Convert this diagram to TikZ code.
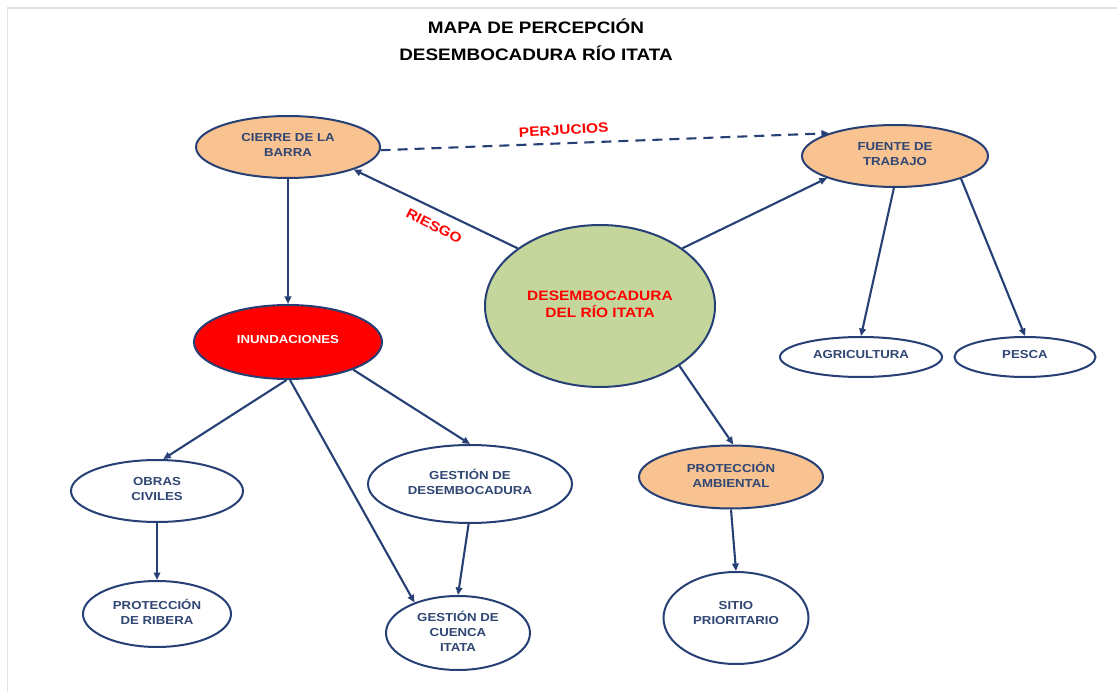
\documentclass[tikz,border=0pt]{standalone}
\usepackage{fontspec}
\setmainfont{Liberation Sans}[FakeStretch=1.14]
\usetikzlibrary{shapes.geometric,arrows.meta}
\definecolor{navy}{RGB}{38,64,118}
\definecolor{txtblue}{RGB}{48,70,115}
\definecolor{peach}{RGB}{249,194,145}
\definecolor{olive}{RGB}{196,214,156}
\definecolor{framegray}{RGB}{226,226,226}
\begin{document}
\begin{tikzpicture}[x=1pt,y=-1pt,
 ell/.style={ellipse, draw=navy, line width=2pt, inner sep=0pt, fill=white},
 nt/.style={font=\bfseries\fontsize{11.6}{15}\selectfont, text=txtblue, align=center, yshift=2pt},
 conn/.style={draw=navy, line width=2.1pt, -{Triangle[length=7.5pt,width=6.5pt]}},
 redlbl/.style={font=\bfseries\fontsize{13.6}{16}\selectfont, text=red},
]
\useasboundingbox (0,0) rectangle (1117,692);
\fill[white] (0,0) rectangle (1117,692);
\draw[framegray, line width=1.5pt] (7.5,692) -- (7.5,8) -- (1117,8);

\node[font=\bfseries\fontsize{16.6}{27}\selectfont, align=center] (title) at (536,40) {MAPA DE PERCEPCIÓN\\DESEMBOCADURA RÍO ITATA};

\node[ell, fill=olive, minimum width=230pt, minimum height=162pt,
  label={[nt, font=\bfseries\fontsize{13.6}{17}\selectfont, text=red]center:DESEMBOCADURA\\DEL RÍO ITATA}] (rio) at (600,306) {};
\node[ell, fill=peach, minimum width=184pt, minimum height=62pt,
  label={[nt]center:CIERRE DE LA\\BARRA}] (cierre) at (288,147) {};
\node[ell, fill=peach, minimum width=186pt, minimum height=62pt,
  label={[nt]center:FUENTE DE\\TRABAJO}] (fuente) at (895,156) {};
\node[ell, fill=red, minimum width=188pt, minimum height=74pt,
  label={[nt, text=white]center:INUNDACIONES}] (inund) at (288,342) {};
\node[ell, minimum width=162pt, minimum height=40pt,
  label={[nt]center:AGRICULTURA}] (agri) at (861,357) {};
\node[ell, minimum width=141pt, minimum height=40pt,
  label={[nt]center:PESCA}] (pesca) at (1025,357) {};
\node[ell, fill=peach, minimum width=184pt, minimum height=63pt,
  label={[nt]center:PROTECCIÓN\\AMBIENTAL}] (protamb) at (731,477) {};
\node[ell, minimum width=172pt, minimum height=62pt,
  label={[nt]center:OBRAS\\CIVILES}] (obras) at (157,491) {};
\node[ell, minimum width=204pt, minimum height=78pt,
  label={[nt]center:GESTIÓN DE\\DESEMBOCADURA}] (gdesemb) at (470,484) {};
\node[ell, minimum width=148pt, minimum height=66pt,
  label={[nt]center:PROTECCIÓN\\DE RIBERA}] (ribera) at (157,614) {};
\node[ell, minimum width=144pt, minimum height=74pt,
  label={[nt]center:GESTIÓN DE\\CUENCA\\ITATA}] (cuenca) at (458,633) {};
\node[ell, minimum width=145pt, minimum height=92pt,
  label={[nt, yshift=3pt]center:SITIO\\PRIORITARIO}] (sitio) at (736,618) {};

\draw[conn] (rio.145) -- (cierre.-19);
\draw[conn] (rio.35) -- (fuente.198);
\draw[conn] (rio.-37) -- (protamb.86);
\draw[conn] (cierre.south) -- (inund.north);
\draw[conn, dash pattern=on 10pt off 7pt] (cierre.-2) -- node[redlbl, pos=0.41, above=4pt, sloped, rotate=1] (perj) {PERJUCIOS} (fuente.161);
\draw[conn] (fuente.-92) -- (agri.north);
\draw[conn] (fuente.-19) -- (pesca.north);
\draw[conn] (inund.-92) -- (obras.79);
\draw[conn] (inund.-87) -- (cuenca.145);
\draw[conn] (inund.-23) -- (gdesemb.north);
\draw[conn] (gdesemb.-92) -- (cuenca.north);
\draw[conn] (obras.south) -- (ribera.north);
\draw[conn] (protamb.south) -- (sitio.north);

\node[redlbl, rotate=-27] (riesgo) at (434,226) {RIESGO};
\end{tikzpicture}
\end{document}
